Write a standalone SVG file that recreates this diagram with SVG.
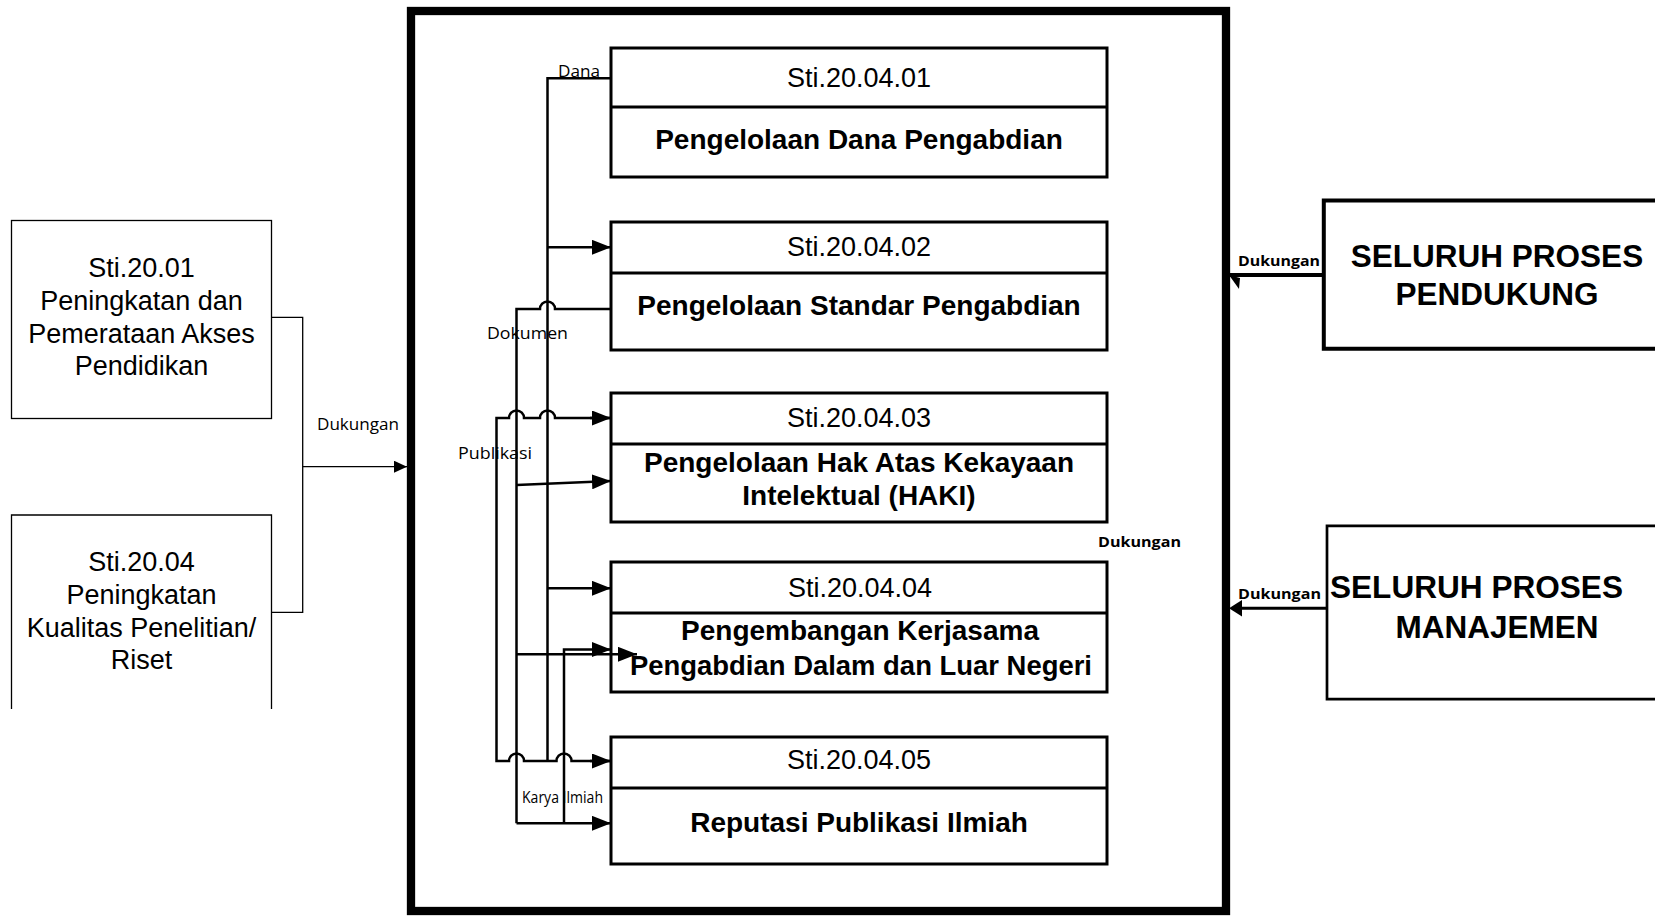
<svg xmlns="http://www.w3.org/2000/svg" width="1655" height="917" viewBox="0 0 1655 917">
<style>
.box{fill:#fff;stroke:#000;stroke-width:3}
.thin{fill:#fff;stroke:#000;stroke-width:1.3}
.ln{fill:none;stroke:#000;stroke-width:2.5}
.lnt{fill:none;stroke:#000;stroke-width:1.3}
.reg{font-family:"Liberation Sans",Arial,sans-serif;font-size:27px;fill:#000;text-anchor:middle}
.bold{font-family:"Liberation Sans",Arial,sans-serif;font-size:28px;font-weight:bold;fill:#000;text-anchor:middle}
.big{font-family:"Liberation Sans",Arial,sans-serif;font-size:31.5px;font-weight:bold;fill:#000}
.lbl{font-family:"Open Sans","Noto Sans",sans-serif;font-size:16px;fill:#000}
.lblb{font-family:"Open Sans","Noto Sans",sans-serif;font-size:15px;font-weight:bold;fill:#000}
</style>
<defs>
<marker id="arr" markerUnits="userSpaceOnUse" markerWidth="19" markerHeight="15" refX="19" refY="7.5" orient="auto">
<path d="M0,0 L19,7.5 L0,15 z" fill="#000"/>
</marker>
<marker id="arrS" markerUnits="userSpaceOnUse" markerWidth="13" markerHeight="12" refX="13" refY="6" orient="auto">
<path d="M0,0 L13,6 L0,12 z" fill="#000"/>
</marker>
</defs>
<rect width="1655" height="917" fill="#fff"/>

<g id="frame">
<rect x="411" y="11" width="815" height="900" fill="none" stroke="#000" stroke-width="8.3"/>
</g>

<g id="node-sti2001">
<rect class="thin" x="11.5" y="220.5" width="260" height="198"/>
<text class="reg" x="141.5" y="277">Sti.20.01</text>
<text class="reg" x="141.5" y="310">Peningkatan dan</text>
<text class="reg" x="141.5" y="343">Pemerataan Akses</text>
<text class="reg" x="141.5" y="375">Pendidikan</text>
</g>

<g id="node-sti2004">
<path class="thin" d="M11.5 709 V515 H271.5 V709"/>
<text class="reg" x="141.5" y="571">Sti.20.04</text>
<text class="reg" x="141.5" y="604">Peningkatan</text>
<text class="reg" x="141.5" y="637">Kualitas Penelitian/</text>
<text class="reg" x="141.5" y="669">Riset</text>
</g>

<g id="node-01">
<rect class="box" x="611" y="48" width="496" height="129"/>
<line class="box" x1="611" y1="107" x2="1107" y2="107"/>
<text class="reg" x="859" y="87">Sti.20.04.01</text>
<text class="bold" x="859" y="149">Pengelolaan Dana Pengabdian</text>
</g>

<g id="node-02">
<rect class="box" x="611" y="222" width="496" height="128"/>
<line class="box" x1="611" y1="273" x2="1107" y2="273"/>
<text class="reg" x="859" y="256">Sti.20.04.02</text>
<text class="bold" x="859" y="315">Pengelolaan Standar Pengabdian</text>
</g>

<g id="node-03">
<rect class="box" x="611" y="393" width="496" height="129"/>
<line class="box" x1="611" y1="444" x2="1107" y2="444"/>
<text class="reg" x="859" y="427">Sti.20.04.03</text>
<text class="bold" x="859" y="472">Pengelolaan Hak Atas Kekayaan</text>
<text class="bold" x="859" y="505">Intelektual (HAKI)</text>
</g>

<g id="node-04">
<rect class="box" x="611" y="562" width="496" height="130"/>
<line class="box" x1="611" y1="613" x2="1107" y2="613"/>
<text class="reg" x="860" y="597">Sti.20.04.04</text>
<text class="bold" x="860" y="640">Pengembangan Kerjasama</text>
<text class="bold" x="861" y="675" textLength="462" lengthAdjust="spacingAndGlyphs">Pengabdian Dalam dan Luar Negeri</text>
</g>

<g id="node-05">
<rect class="box" x="611" y="737" width="496" height="127"/>
<line class="box" x1="611" y1="788" x2="1107" y2="788"/>
<text class="reg" x="859" y="769">Sti.20.04.05</text>
<text class="bold" x="859" y="832">Reputasi Publikasi Ilmiah</text>
</g>

<g id="node-pendukung">
<path d="M1670 200.5 H1323.8 V348.7 H1670" fill="#fff" stroke="#000" stroke-width="4"/>
<text class="big" x="1497" y="267" text-anchor="middle">SELURUH PROSES</text>
<text class="big" x="1497" y="305" text-anchor="middle">PENDUKUNG</text>
</g>

<g id="node-manajemen">
<path d="M1670 525.8 H1327 V699.2 H1670" fill="#fff" stroke="#000" stroke-width="2.7"/>
<text class="big" x="1330" y="598" textLength="293" lengthAdjust="spacingAndGlyphs">SELURUH PROSES</text>
<text class="big" x="1497" y="638" text-anchor="middle">MANAJEMEN</text>
</g>

<g id="connectors">
<!-- left inputs -->
<path class="lnt" d="M271.5 317.3 H302.7 V612.3 H271.5"/>
<path class="lnt" d="M302.7 466.7 H407" marker-end="url(#arrS)"/>
<text class="lbl" x="317" y="430" textLength="82" lengthAdjust="spacingAndGlyphs">Dukungan</text>

<!-- line A (Dana) -->
<path class="ln" d="M611 78.3 H547.5 V761"/>
<path class="ln" d="M547.5 247.3 H611" marker-end="url(#arr)"/>
<path class="ln" d="M547.5 588.3 H611" marker-end="url(#arr)"/>
<text class="lbl" x="558" y="77" textLength="42" lengthAdjust="spacingAndGlyphs">Dana</text>

<!-- line B (Dokumen) -->
<path class="ln" d="M611 309 H555 A7.5 7.5 0 0 0 540 309 H516.5 V823.3"/>
<path class="ln" d="M516.5 485 L611 481" marker-end="url(#arr)"/>
<path class="ln" d="M516.5 654.3 H637" marker-end="url(#arr)"/>
<path class="ln" d="M516.5 823.3 H611" marker-end="url(#arr)"/>
<text class="lbl" x="487" y="339" textLength="81" lengthAdjust="spacingAndGlyphs">Dokumen</text>

<!-- line C (Publikasi) -->
<path class="ln" d="M611 418 H555 A7.5 7.5 0 0 0 540 418 H524 A7.5 7.5 0 0 0 509 418 H496.5 V761 H509 A7.5 7.5 0 0 1 524 761 H556.5 A7.5 7.5 0 0 1 571.5 761 H611" marker-start="none"/>
<path class="ln" d="M590 418 H611" marker-end="url(#arr)"/>
<path class="ln" d="M590 761 H611" marker-end="url(#arr)"/>
<text class="lbl" x="458" y="459" textLength="74" lengthAdjust="spacingAndGlyphs">Publikasi</text>

<!-- line D (Karya Ilmiah) -->
<path class="ln" d="M564 823.3 V649.5 H611" marker-end="url(#arr)"/>
<text class="lbl" x="522" y="803" font-size="14.5" textLength="81" lengthAdjust="spacingAndGlyphs">Karya Ilmiah</text>

<!-- right supports -->
<path d="M1323 275 H1230" fill="none" stroke="#000" stroke-width="4"/>
<polygon points="1229,275 1240,278 1239,289" fill="#000"/>
<text class="lblb" x="1238" y="266" textLength="82" lengthAdjust="spacingAndGlyphs">Dukungan</text>

<path d="M1327 608.3 H1240" fill="none" stroke="#000" stroke-width="3"/>
<polygon points="1229,608.3 1242,600 1242,616.6" fill="#000"/>
<text class="lblb" x="1238" y="599" textLength="83" lengthAdjust="spacingAndGlyphs">Dukungan</text>

<text class="lblb" x="1098" y="546.7" textLength="83" lengthAdjust="spacingAndGlyphs">Dukungan</text>
</g>
</svg>
